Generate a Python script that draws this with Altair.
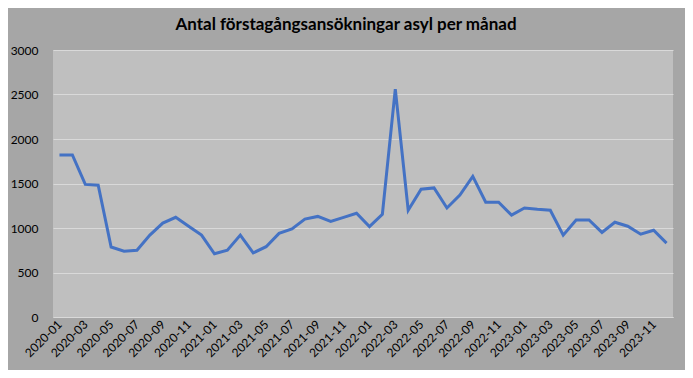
import altair as alt
import pandas as pd

months = [f"{y}-{m:02d}" for y in (2020, 2021, 2022, 2023) for m in range(1, 13)]
values = [1820, 1820, 1490, 1480, 786, 740, 750, 920, 1055, 1120, 1020, 920,
          710, 750, 920, 720, 790, 940, 990, 1100, 1130, 1075, 1120, 1165,
          1015, 1155, 2560, 1200, 1435, 1450, 1225, 1370, 1580, 1290, 1290, 1145,
          1225, 1210, 1200, 920, 1090, 1090, 950, 1065, 1020, 930, 975, 830]
label_months = months[::2]
y_ticks = [0, 500, 1000, 1500, 2000, 2500, 3000]

df = pd.DataFrame({"month": months, "value": values})

FONT = "Lato"

chart = alt.Chart(df).mark_line(color="#4472c4", strokeWidth=3).encode(
    x=alt.X("month:O", sort=months,
            scale=alt.Scale(type="point", padding=0.5),
            axis=alt.Axis(values=label_months, title=None, labelAngle=-45,
                          labelAlign="right", labelBaseline="middle",
                          labelPadding=5, ticks=False, domain=True,
                          domainColor="#d9d9d9", labelFont=FONT, labelFontSize=12,
                          labelColor="#000000", grid=False)),
    y=alt.Y("value:Q", scale=alt.Scale(domain=[0, 3000], nice=False),
            axis=alt.Axis(values=y_ticks, format="d", title=None, ticks=False,
                          domain=False, labelPadding=15, labelFont=FONT,
                          labelFontSize=12, labelColor="#000000", grid=True,
                          gridColor="#d9d9d9", gridWidth=1)),
).properties(
    width=620, height=267,
    title=alt.TitleParams("Antal förstagångsansökningar asyl per månad",
                          font=FONT, fontSize=17, fontWeight="bold",
                          color="#000000", anchor="middle", dx=-17, offset=10),
    background="#a6a6a6",
    padding={"left": 45, "top": 42, "right": 12, "bottom": 53},
    autosize=alt.AutoSizeParams(type="none"),
).configure_view(fill="#bfbfbf", stroke=None)

chart.save("out.html", embed_options={"renderer": "svg", "actions": False})
